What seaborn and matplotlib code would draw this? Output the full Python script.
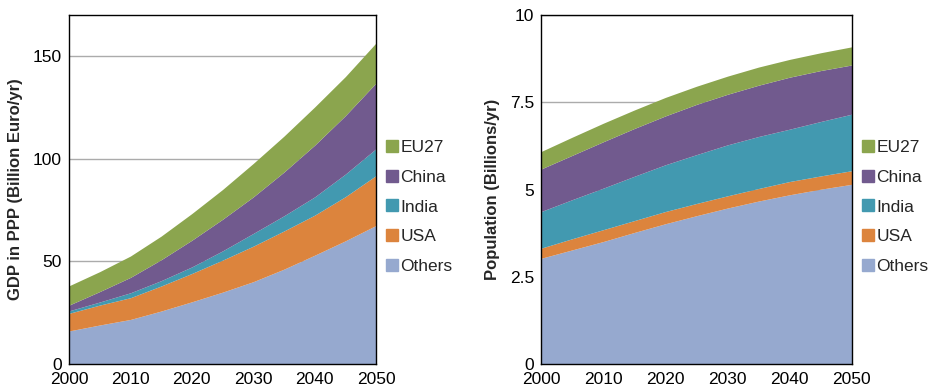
import matplotlib
matplotlib.use("Agg")
import matplotlib.pyplot as plt
from matplotlib.lines import Line2D
import numpy as np
import pandas as pd
import seaborn as sns

years = [2000, 2005, 2010, 2015, 2020, 2025, 2030, 2035, 2040, 2045, 2050]
regions = ["Others", "USA", "India", "China", "EU27"]

# GDP in PPP (Billion Euro/yr) per region
gdp_others = [16.1, 19.0, 21.7, 25.8, 30.3, 35.0, 40.1, 46.2, 53.0, 60.0, 67.5]
gdp_usa = [8.6, 9.7, 10.6, 12.2, 13.8, 15.6, 17.3, 18.6, 19.5, 21.5, 24.3]
gdp_india = [1.2, 1.5, 2.4, 2.6, 3.2, 4.5, 6.2, 7.4, 8.9, 11.0, 13.1]
gdp_china = [2.8, 5.1, 7.5, 10.2, 13.0, 15.4, 17.8, 21.3, 25.2, 28.5, 32.0]
gdp_eu27 = [9.4, 9.7, 10.4, 11.5, 13.0, 14.5, 16.3, 17.5, 18.6, 19.0, 19.5]

# Population (Billions) per region
pop_others = [3.03, 3.27, 3.51, 3.77, 4.02, 4.25, 4.47, 4.67, 4.85, 5.01, 5.15]
pop_usa = [0.29, 0.32, 0.34, 0.34, 0.35, 0.35, 0.35, 0.36, 0.38, 0.38, 0.39]
pop_india = [1.05, 1.12, 1.19, 1.27, 1.34, 1.40, 1.46, 1.49, 1.50, 1.56, 1.62]
pop_china = [1.22, 1.27, 1.33, 1.37, 1.40, 1.44, 1.45, 1.47, 1.49, 1.46, 1.41]
pop_eu27 = [0.50, 0.52, 0.53, 0.53, 0.53, 0.52, 0.52, 0.52, 0.51, 0.51, 0.52]

gdp_ticks = [0, 50, 100, 150]
gdp_tick_labels = ["0", "50", "100", "150"]
pop_ticks = [0, 2.5, 5, 7.5, 10]
pop_tick_labels = ["0", "2.5", "5", "7.5", "10"]
year_ticks = [2000, 2010, 2020, 2030, 2040, 2050]

gdp = pd.DataFrame({"Others": gdp_others, "USA": gdp_usa, "India": gdp_india,
                    "China": gdp_china, "EU27": gdp_eu27}, index=years)
pop = pd.DataFrame({"Others": pop_others, "USA": pop_usa, "India": pop_india,
                    "China": pop_china, "EU27": pop_eu27}, index=years)

sns.set_theme(style="white")
plt.rcParams["font.family"] = ["Liberation Sans", "DejaVu Sans"]

palette = sns.color_palette(["#96a9cf", "#dc843d", "#4299b0", "#715a8e", "#8ba54e"])
colors = dict(zip(regions, palette))

fig = plt.figure(figsize=(9.33, 3.89), dpi=100)
ax1 = fig.add_axes([0.074, 0.0643, 0.329, 0.897])
ax2 = fig.add_axes([0.580, 0.0643, 0.333, 0.897])


def draw_panel(ax, df, ylim, ticks, tick_labels, ylabel):
    ax.stackplot(df.index, *[df[r].values for r in regions],
                 colors=[colors[r] for r in regions], linewidth=0, zorder=2)
    ax.set_xlim(2000, 2050)
    ax.set_ylim(*ylim)
    ax.set_yticks(ticks)
    ax.set_yticklabels(tick_labels)
    ax.set_xticks(year_ticks)
    ax.set_xticklabels([str(y) for y in year_ticks])
    ax.tick_params(axis="both", length=0, labelsize=12.5, colors="black")
    ax.tick_params(axis="y", pad=5)
    ax.tick_params(axis="x", pad=6)
    ax.yaxis.grid(True, color="#ababab", linewidth=1.0, zorder=1)
    ax.set_axisbelow(True)
    for s in ax.spines.values():
        s.set_color("black")
        s.set_linewidth(1.0)
        s.set_visible(True)
    ax.set_ylabel(ylabel, fontsize=12, fontweight="bold", labelpad=7)
    handles = [Line2D([0], [0], marker="s", linestyle="none", markersize=9,
                      markerfacecolor=colors[r], markeredgecolor=colors[r])
               for r in reversed(regions)]
    ax.legend(handles, list(reversed(regions)), loc="center left",
              bbox_to_anchor=(1.0, 0.45), frameon=False, fontsize=12.5,
              handlelength=0.7, handletextpad=0.1, labelspacing=0.85,
              borderaxespad=0.2)


draw_panel(ax1, gdp, (0, 170), gdp_ticks, gdp_tick_labels,
           "GDP in PPP (Billion Euro/yr)")
draw_panel(ax2, pop, (0, 10), pop_ticks, pop_tick_labels,
           "Population (Billions/yr)")

fig.savefig("out.png", dpi=100)
